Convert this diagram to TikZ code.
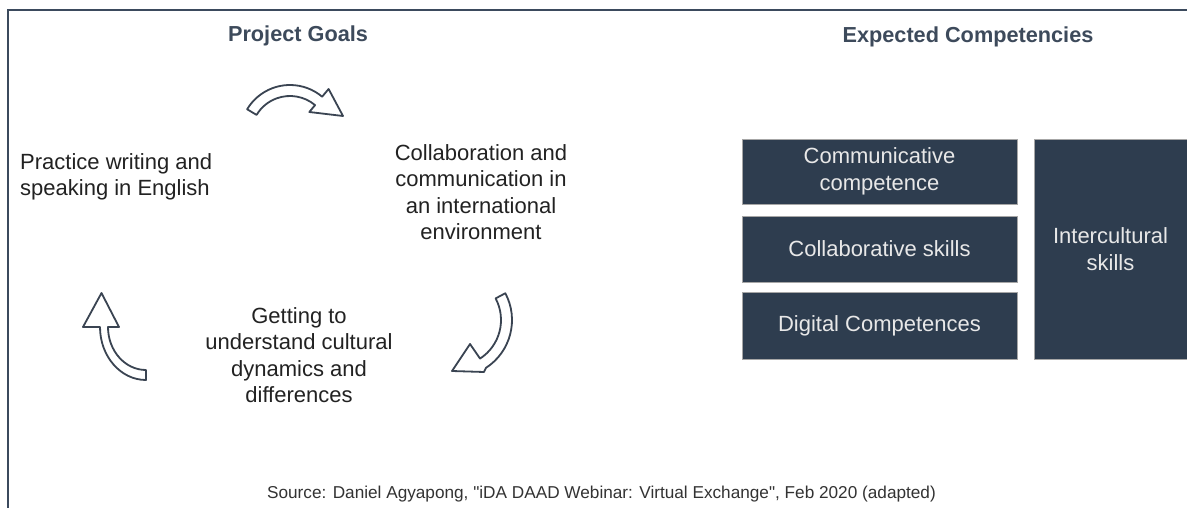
\documentclass[tikz,border=0pt]{standalone}
\usepackage{fontspec}
\setmainfont{Liberation Sans}
\newfontfamily\srcfont{Liberation Sans}
\usetikzlibrary{calc}
\definecolor{navy}{HTML}{2E3D4F}
\definecolor{titlec}{HTML}{3D4A5B}
\definecolor{framec}{HTML}{3B4A5D}
\definecolor{arrowc}{HTML}{3A4452}
\definecolor{bodyc}{HTML}{222222}
\definecolor{boxtext}{HTML}{E8E8E8}
\definecolor{srcc}{HTML}{333333}
\begin{document}
\begin{tikzpicture}[x=1pt,y=-1pt,
 title/.style={font=\fontsize{21.7}{26}\selectfont\bfseries, text=titlec, inner sep=0pt},
 body/.style={font=\fontsize{22}{26.5}\selectfont, text=bodyc, inner sep=0pt, align=center},
 compbox/.style={fill=navy, draw=gray!70, line width=0.6pt, text=boxtext,
   font=\fontsize{22}{26.5}\selectfont, align=center, inner sep=0pt},
 curvedarrow/.style={draw=arrowc, fill=white, line width=1.8pt, line join=round},
 framel/.style={draw=framec, line width=2pt}]
\useasboundingbox (0,0) rectangle (1187,508);
\fill[white] (0,0) rectangle (1187,508);
% frame
\coordinate (fTL) at (8,10);
\coordinate (fTR) at (1187,10);
\coordinate (fBL) at (8,508);
\draw[framel] (fBL) -- (fTL) -- (fTR);
% titles
\node[title, anchor=base] (pg) at (298,42) {Project Goals};
\node[title, anchor=base] (ec) at (968,42.5) {Expected Competencies};
% goals
\node[body, align=left, anchor=west] (g1) at (20,177) {Practice writing and\\speaking in English};
\node[body] (g2) at (481,192) {Collaboration and\\communication in\\an international\\environment};
\node[body] (g3) at (299,355) {Getting to\\understand cultural\\dynamics and\\differences};
% curved arrows
\coordinate (a1c) at (290,135);
\path[curvedarrow] (a1c) ++(211:50) arc[start angle=211, end angle=310, radius=50]
  -- (328.6,89) -- (343,116) -- (309.3,112) -- ($(a1c)+(310:39)$)
  arc[start angle=310, end angle=211, radius=39] -- cycle;
\coordinate (a2c) at (455,320);
\path[curvedarrow] (a2c) ++(-28:57) arc[start angle=-28, end angle=57, radius=57]
  -- (484,372) -- (452,371) -- (470,344) -- ($(a2c)+(57:46)$)
  arc[start angle=57, end angle=-28, radius=46] -- cycle;
\coordinate (a3c) at (146,327);
\path[curvedarrow] (a3c) ++(0,53) arc[start angle=90, end angle=180, x radius=46, y radius=53]
  -- (83,327) -- (101.5,293) -- (119,327) -- (108,327)
  arc[start angle=180, end angle=90, x radius=38, y radius=43] -- cycle;
% competencies
\node[compbox, minimum width=275pt, minimum height=65pt] (c1) at (879.5,171.5) {Communicative\\competence};
\node[compbox, minimum width=275pt, minimum height=66pt] (c2) at (879.5,249) {Collaborative skills};
\node[compbox, minimum width=275pt, minimum height=67pt] (c3) at (879.5,325.5) {Digital Competences};
\node[compbox, minimum width=153pt, minimum height=220pt] (c4) at (1110.5,249) {Intercultural\\skills};
% source
\node[font=\srcfont\fontsize{17.2}{20}\selectfont, text=srcc, anchor=base, inner sep=0pt] (src) at (601.5,498)
  {Source: Daniel Agyapong, "iDA DAAD Webinar: Virtual Exchange", Feb 2020 (adapted)};
\end{tikzpicture}
\end{document}
